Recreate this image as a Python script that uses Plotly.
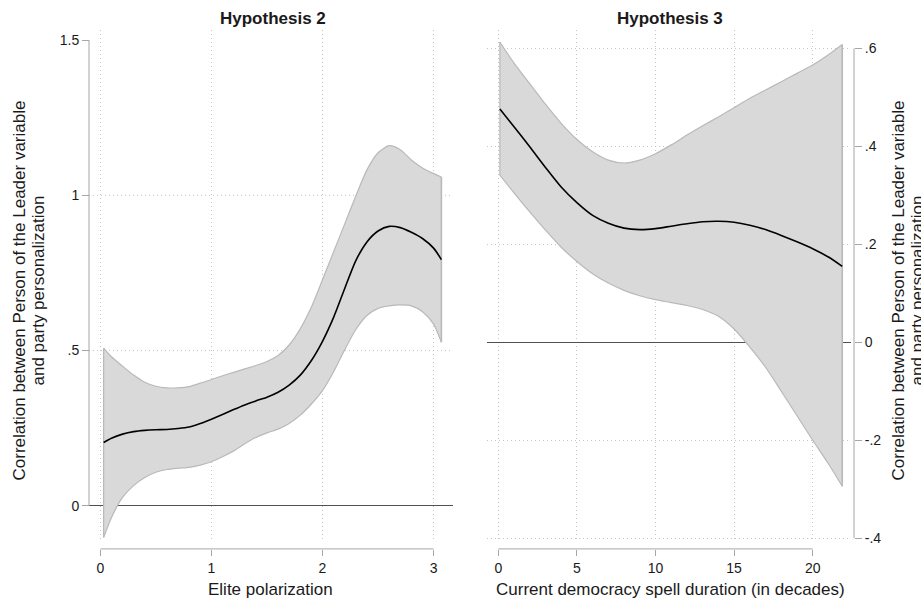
import plotly.graph_objects as go

# ---------------- Data ----------------
# Hypothesis 2: Elite polarization
h2_x = [0.03, 0.1, 0.2, 0.3, 0.4, 0.5, 0.6, 0.7, 0.8, 0.9, 1.0, 1.1, 1.2, 1.3, 1.4, 1.5,
        1.6, 1.7, 1.8, 1.9, 2.0, 2.1, 2.2, 2.3, 2.4, 2.5, 2.6, 2.7, 2.8, 2.9, 3.0, 3.07]
h2_est = [0.204, 0.218, 0.231, 0.239, 0.243, 0.245, 0.246, 0.249, 0.254, 0.265, 0.279, 0.294,
          0.310, 0.325, 0.338, 0.350, 0.366, 0.389, 0.421, 0.468, 0.530, 0.607, 0.700, 0.790,
          0.850, 0.885, 0.900, 0.896, 0.881, 0.861, 0.830, 0.793]
h2_upper = [0.508, 0.480, 0.450, 0.421, 0.398, 0.385, 0.380, 0.380, 0.384, 0.395, 0.407, 0.419,
            0.430, 0.441, 0.452, 0.465, 0.484, 0.518, 0.570, 0.640, 0.728, 0.818, 0.908, 0.998,
            1.082, 1.137, 1.160, 1.147, 1.114, 1.088, 1.070, 1.059]
h2_lower = [-0.102, -0.038, 0.027, 0.065, 0.091, 0.108, 0.117, 0.121, 0.124, 0.131, 0.142, 0.158,
            0.177, 0.200, 0.220, 0.235, 0.247, 0.265, 0.292, 0.328, 0.371, 0.432, 0.503, 0.568,
            0.613, 0.636, 0.644, 0.647, 0.644, 0.625, 0.585, 0.527]

# Hypothesis 3: Current democracy spell duration (in decades)
h3_x = [0.1, 1, 2, 3, 4, 5, 6, 7, 8, 9, 10, 11, 12, 13, 14, 15, 16, 17, 18, 19, 20, 21, 21.88]
h3_est = [0.476, 0.440, 0.399, 0.357, 0.317, 0.285, 0.259, 0.243, 0.233, 0.230, 0.232, 0.237,
          0.242, 0.246, 0.247, 0.245, 0.239, 0.230, 0.218, 0.205, 0.191, 0.174, 0.155]
h3_upper = [0.613, 0.570, 0.528, 0.486, 0.447, 0.414, 0.389, 0.372, 0.366, 0.372, 0.385, 0.403,
            0.423, 0.442, 0.460, 0.479, 0.498, 0.515, 0.532, 0.549, 0.566, 0.587, 0.608]
h3_lower = [0.341, 0.305, 0.266, 0.229, 0.194, 0.165, 0.140, 0.121, 0.106, 0.095, 0.087, 0.081,
            0.075, 0.067, 0.053, 0.027, -0.010, -0.051, -0.100, -0.150, -0.200, -0.248, -0.294]

h2_xticks = [0, 1, 2, 3]
h2_yticks = [0, 0.5, 1, 1.5]
h2_ytext = ["0", ".5", "1", "1.5"]
h3_xticks = [0, 5, 10, 15, 20]
h3_yticks = [-0.4, -0.2, 0, 0.2, 0.4, 0.6]
h3_ytext = ["-.4", "-.2", "0", ".2", ".4", ".6"]

titles = ["Hypothesis 2", "Hypothesis 3"]
xtitles = ["Elite polarization", "Current democracy spell duration (in decades)"]
ytitle1 = "Correlation between Person of the Leader variable"
ytitle2 = "and party personalization"

# ---------------- Layout helpers ----------------
W = 921
H = 607          # the capture compresses the page height slightly; positions below are in 601-px units
REF_H = 601
def px(x):
    return x / W
def py(y):
    return 1 - y / REF_H

FONT = "Liberation Sans, Arial, Helvetica, sans-serif"
BAND_FILL = "#d9d9d9"
BAND_LINE = "#b9b9b9"
AXIS = "#a6a6a6"
GRID = "#c4c4c4"
GDASH = "1px,3px"
TXT = "#1a1a1a"

fig = go.Figure()

def add_panel(xs, est, up, lo, xa, ya):
    fig.add_trace(go.Scatter(x=xs, y=lo, mode="lines", line=dict(color=BAND_LINE, width=1.2, shape="spline", smoothing=0.7),
                             xaxis=xa, yaxis=ya, hoverinfo="skip", showlegend=False))
    fig.add_trace(go.Scatter(x=xs, y=up, mode="lines", fill="tonexty", fillcolor=BAND_FILL,
                             line=dict(color=BAND_LINE, width=1.2, shape="spline", smoothing=0.7),
                             xaxis=xa, yaxis=ya, hoverinfo="skip", showlegend=False))
    fig.add_trace(go.Scatter(x=[xs[0], xs[0]], y=[lo[0], up[0]], mode="lines", line=dict(color=BAND_LINE, width=1.2),
                             xaxis=xa, yaxis=ya, hoverinfo="skip", showlegend=False))
    fig.add_trace(go.Scatter(x=[xs[-1], xs[-1]], y=[lo[-1], up[-1]], mode="lines", line=dict(color=BAND_LINE, width=1.6),
                             xaxis=xa, yaxis=ya, hoverinfo="skip", showlegend=False))
    fig.add_trace(go.Scatter(x=xs, y=est, mode="lines", line=dict(color="black", width=1.6, shape="spline", smoothing=0.7),
                             xaxis=xa, yaxis=ya, hoverinfo="skip", showlegend=False))

add_panel(h2_x, h2_est, h2_upper, h2_lower, "x", "y")
add_panel(h3_x, h3_est, h3_upper, h3_lower, "x2", "y2")

# Panel geometry (reference pixels)
L_left, L_right = 89, 453
R_left, R_right = 487, 851
top_px, bot_px = 30, 540
xaxis_px = 548
raxis_px = 854

# Left panel scales: x=0 at 100.3 px, 111.1 px/unit; y=0 at 505 px, 310 px/unit
lx0, lxs = 100.3, 111.1
ly0, lys = 505.0, 310.0
# Right panel scales: x=0 at 498.3 px, 15.72 px/unit; y=0 at 341.7 px, 489 px/unit
rx0, rxs = 498.3, 15.72
ry0, rys = 341.7, 489.0

tickfont = dict(family=FONT, size=14, color=TXT)

fig.update_layout(
    width=W, height=H,
    margin=dict(l=0, r=0, t=0, b=0),
    paper_bgcolor="white", plot_bgcolor="white",
    showlegend=False,
    font=dict(family=FONT, color=TXT),
    xaxis=dict(domain=[px(L_left), px(L_right)],
               range=[(L_left - lx0) / lxs, (L_right - lx0) / lxs],
               anchor="free", position=py(xaxis_px),
               tickvals=h2_xticks, ticktext=[str(v) for v in h2_xticks],
               ticks="outside", ticklen=6, tickcolor=AXIS, tickwidth=1,
               showline=False, showgrid=True, gridcolor=GRID, griddash=GDASH, gridwidth=1,
               zeroline=False, tickfont=tickfont, fixedrange=True),
    yaxis=dict(domain=[py(bot_px), py(top_px)],
               range=[(ly0 - bot_px) / lys, (ly0 - top_px) / lys],
               anchor="free", position=px(L_left),
               tickvals=h2_yticks, ticktext=h2_ytext,
               ticks="outside", ticklen=7, tickcolor=AXIS, tickwidth=1,
               showline=False, showgrid=False,
               zeroline=True, zerolinecolor="#505050", zerolinewidth=1,
               tickfont=tickfont, fixedrange=True),
    xaxis2=dict(domain=[px(R_left), px(R_right)],
                range=[(R_left - rx0) / rxs, (R_right - rx0) / rxs],
                anchor="free", position=py(xaxis_px),
                tickvals=h3_xticks, ticktext=[str(v) for v in h3_xticks],
                ticks="outside", ticklen=6, tickcolor=AXIS, tickwidth=1,
                showline=False, showgrid=True, gridcolor=GRID, griddash=GDASH, gridwidth=1,
                zeroline=False, tickfont=tickfont, fixedrange=True),
    yaxis2=dict(domain=[py(bot_px), py(top_px)],
                range=[(ry0 - bot_px) / rys, (ry0 - top_px) / rys],
                anchor="free", position=px(raxis_px), side="right",
                tickvals=h3_yticks, ticktext=h3_ytext,
                ticks="outside", ticklen=7, tickcolor=AXIS, tickwidth=1,
                showline=False, showgrid=True, gridcolor=GRID, griddash=GDASH, gridwidth=1,
                zeroline=True, zerolinecolor="#505050", zerolinewidth=1,
                tickfont=tickfont, fixedrange=True),
)

shapes = []
for v in h2_yticks[1:-1]:
    shapes.append(dict(type="line", xref="paper", yref="y", x0=px(L_left), x1=px(L_right), y0=v, y1=v,
                       line=dict(color=GRID, width=1, dash=GDASH), layer="below"))
shapes.append(dict(type="line", xref="paper", yref="y", x0=px(L_left), x1=px(L_left),
                   y0=h2_yticks[0], y1=h2_yticks[-1], line=dict(color=AXIS, width=1)))
shapes.append(dict(type="line", xref="x", yref="paper", x0=h2_xticks[0], x1=h2_xticks[-1],
                   y0=py(xaxis_px), y1=py(xaxis_px), line=dict(color=AXIS, width=1)))
shapes.append(dict(type="line", xref="paper", yref="y2", x0=px(raxis_px), x1=px(raxis_px),
                   y0=h3_yticks[0], y1=h3_yticks[-1], line=dict(color=AXIS, width=1)))
shapes.append(dict(type="line", xref="x2", yref="paper", x0=h3_xticks[0], x1=h3_xticks[-1],
                   y0=py(xaxis_px), y1=py(xaxis_px), line=dict(color=AXIS, width=1)))
fig.update_layout(shapes=shapes)

ann = []
for t, cx in zip(titles, [273, 670]):
    ann.append(dict(text="<b>" + t + "</b>", x=px(cx), y=py(18), xref="paper", yref="paper",
                    showarrow=False, xanchor="center", yanchor="middle",
                    font=dict(family=FONT, size=17, color=TXT)))
for t, cx in zip(xtitles, [270.5, 670.5]):
    ann.append(dict(text=t, x=px(cx), y=py(589), xref="paper", yref="paper",
                    showarrow=False, xanchor="center", yanchor="middle",
                    font=dict(family=FONT, size=17, color=TXT)))
for x1, x2 in [(19, 38), (898, 917)]:
    ann.append(dict(text=ytitle1, x=px(x1), y=py(290), xref="paper", yref="paper", textangle=-90,
                    showarrow=False, xanchor="center", yanchor="middle",
                    font=dict(family=FONT, size=17, color=TXT)))
    ann.append(dict(text=ytitle2, x=px(x2), y=py(290), xref="paper", yref="paper", textangle=-90,
                    showarrow=False, xanchor="center", yanchor="middle",
                    font=dict(family=FONT, size=17, color=TXT)))
fig.update_layout(annotations=ann)

fig.write_html("out.html",
               config={"displayModeBar": False, "staticPlot": True},
               post_script="document.body.style.margin='0';document.body.style.overflow='hidden';")
